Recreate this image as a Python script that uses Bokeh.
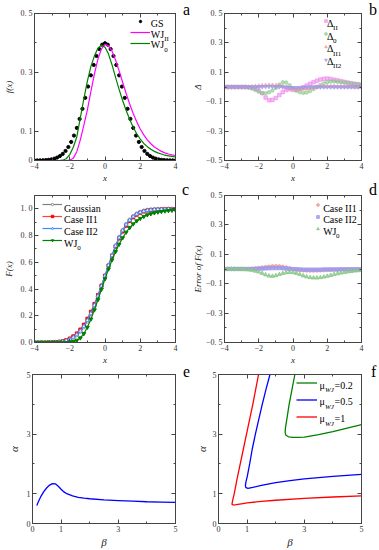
from bokeh.plotting import figure
from bokeh.models import Range1d, FixedTicker, LinearAxis, Label, Legend, LegendItem, Div
from bokeh.layouts import column, row
from bokeh.embed import file_html
from bokeh.resources import INLINE

FONT = "Liberation Serif"
AX = "#444444"

# ---------------- data ----------------
# panel a : densities
gs_x = [-4.00, -3.84, -3.68, -3.52, -3.36, -3.20, -3.04, -2.88, -2.72, -2.56, -2.40, -2.24, -2.08,
        -1.92, -1.76, -1.60, -1.44, -1.28, -1.12, -0.96, -0.80, -0.64, -0.48, -0.32, -0.16, 0.00,
        0.16, 0.32, 0.48, 0.64, 0.80, 0.96, 1.12, 1.28, 1.44, 1.60, 1.76, 1.92, 2.08, 2.24, 2.40,
        2.56, 2.72, 2.88, 3.04, 3.20, 3.36, 3.52, 3.68, 3.84, 4.00]
gs_f = [0.0001, 0.0003, 0.0005, 0.0008, 0.0014, 0.0024, 0.0039, 0.0063, 0.0099, 0.0151, 0.0224,
        0.0325, 0.0459, 0.0632, 0.0848, 0.1109, 0.1415, 0.1758, 0.2131, 0.2516, 0.2897, 0.3251,
        0.3555, 0.3790, 0.3939, 0.3989, 0.3939, 0.3790, 0.3555, 0.3251, 0.2897, 0.2516, 0.2131,
        0.1758, 0.1415, 0.1109, 0.0848, 0.0632, 0.0459, 0.0325, 0.0224, 0.0151, 0.0099, 0.0063,
        0.0039, 0.0024, 0.0014, 0.0008, 0.0005, 0.0003, 0.0001]

x_grid = [-4.0, -3.8, -3.6, -3.4, -3.2, -3.0, -2.8, -2.6, -2.4, -2.2, -2.0, -1.8, -1.6, -1.4,
          -1.2, -1.0, -0.8, -0.6, -0.4, -0.2, 0.0, 0.2, 0.4, 0.6, 0.8, 1.0, 1.2, 1.4, 1.6, 1.8,
          2.0, 2.2, 2.4, 2.6, 2.8, 3.0, 3.2, 3.4, 3.6, 3.8, 4.0]
wj2_f = [0, 0, 0, 0, 0, 0, 0, 0, 0, 0, 0.001, 0.008, 0.03, 0.07, 0.12, 0.172, 0.235, 0.295,
         0.345, 0.38, 0.395, 0.39, 0.372, 0.342, 0.305, 0.266, 0.228, 0.192, 0.16, 0.132, 0.107,
         0.087, 0.07, 0.057, 0.046, 0.038, 0.031, 0.026, 0.022, 0.019, 0.017]
wj0_f = [0, 0, 0, 0, 0, 0, 0, 0, 0.001, 0.006, 0.02, 0.045, 0.08, 0.145, 0.21, 0.27, 0.32,
         0.356, 0.382, 0.393, 0.385, 0.362, 0.325, 0.283, 0.242, 0.204, 0.17, 0.14, 0.113,
         0.091, 0.073, 0.058, 0.047, 0.038, 0.031, 0.026, 0.022, 0.018, 0.016, 0.014, 0.012]

# panel b : density differences
d_II = [0, 0, 0, 0, 0, 0, 0, -0.002, -0.006, -0.013, -0.025, -0.042, -0.072, -0.09, -0.088,
        -0.075, -0.055, -0.035, -0.02, -0.015, -0.02, -0.02, -0.012, -0.002, 0.01, 0.022, 0.033,
        0.043, 0.051, 0.056, 0.057, 0.055, 0.05, 0.045, 0.04, 0.035, 0.03, 0.026, 0.022, 0.019,
        0.016]
d_0 = [0, 0, 0, 0, 0, 0, 0, -0.003, -0.01, -0.02, -0.032, -0.042, -0.043, -0.036, -0.024,
       -0.006, 0.016, 0.032, 0.03, 0.012, -0.008, -0.025, -0.036, -0.04, -0.037, -0.028, -0.014,
       0.0, 0.014, 0.025, 0.033, 0.037, 0.038, 0.036, 0.033, 0.03, 0.027, 0.024, 0.021, 0.018,
       0.015]
d_II1 = [0, 0, 0, 0, 0, 0, 0, 0, 0.002, 0.004, 0.006, 0.008, 0.01, 0.011, 0.011, 0.01, 0.008,
         0.004, -0.002, -0.008, -0.012, -0.015, -0.015, -0.013, -0.01, -0.006, -0.003, 0.0,
         0.002, 0.003, 0.003, 0.003, 0.003, 0.002, 0.002, 0.001, 0.001, 0.001, 0, 0, 0]
d_II2 = [0, 0, 0, 0, 0, 0, 0, 0, 0, 0, 0.001, 0.002, 0.003, 0.003, 0.003, 0.002, 0.001, 0.0,
         -0.002, -0.004, -0.005, -0.005, -0.004, -0.003, -0.002, -0.001, 0, 0, 0, 0, 0, 0, 0, 0,
         0, 0, 0, 0, 0, 0, 0]

# panel c : distribution functions
F_gauss = [0.000, 0.000, 0.000, 0.000, 0.001, 0.001, 0.003, 0.005, 0.008, 0.014, 0.023, 0.036,
           0.055, 0.081, 0.115, 0.159, 0.212, 0.274, 0.345, 0.421, 0.500, 0.579, 0.655, 0.726,
           0.788, 0.841, 0.885, 0.919, 0.945, 0.964, 0.977, 0.986, 0.992, 0.995, 0.997, 0.999,
           0.999, 1.000, 1.000, 1.000, 1.000]
F_II1 = [0.000, 0.000, 0.000, 0.000, 0.001, 0.001, 0.003, 0.005, 0.010, 0.018, 0.030, 0.046,
         0.068, 0.097, 0.133, 0.178, 0.230, 0.289, 0.355, 0.426, 0.500, 0.575, 0.648, 0.717,
         0.778, 0.830, 0.874, 0.909, 0.936, 0.956, 0.970, 0.980, 0.987, 0.990, 0.993, 0.995,
         0.996, 0.997, 0.997, 0.998, 0.998]
F_II2 = [0.000, 0.000, 0.000, 0.000, 0.001, 0.001, 0.003, 0.005, 0.008, 0.015, 0.025, 0.039,
         0.059, 0.086, 0.121, 0.165, 0.218, 0.279, 0.348, 0.422, 0.499, 0.577, 0.652, 0.722,
         0.784, 0.837, 0.881, 0.915, 0.941, 0.961, 0.974, 0.983, 0.989, 0.992, 0.995, 0.997,
         0.997, 0.998, 0.998, 0.998, 0.998]
F_WJ0 = [0.000, 0.000, 0.000, 0.000, 0.000, 0.000, 0.000, 0.000, 0.000, 0.000, 0.003, 0.007,
         0.016, 0.034, 0.066, 0.114, 0.175, 0.244, 0.320, 0.398, 0.476, 0.550, 0.618, 0.680,
         0.735, 0.783, 0.825, 0.859, 0.887, 0.910, 0.928, 0.943, 0.955, 0.963, 0.970, 0.976,
         0.980, 0.984, 0.987, 0.989, 0.991]

# panel d : errors of F(x)
e_II1 = [0, 0, 0, 0, 0, 0, 0, 0, 0.002, 0.004, 0.007, 0.01, 0.013, 0.016, 0.018, 0.019, 0.018,
         0.015, 0.01, 0.005, 0.0, -0.004, -0.007, -0.009, -0.01, -0.011, -0.011, -0.01, -0.009,
         -0.008, -0.007, -0.006, -0.005, -0.005, -0.004, -0.004, -0.003, -0.003, -0.003, -0.002,
         -0.002]
e_II2 = [0, 0, 0, 0, 0, 0, 0, 0, 0, 0.001, 0.002, 0.003, 0.004, 0.005, 0.006, 0.006, 0.006,
         0.005, 0.003, 0.001, -0.001, -0.002, -0.003, -0.004, -0.004, -0.004, -0.004, -0.004,
         -0.004, -0.003, -0.003, -0.003, -0.003, -0.003, -0.002, -0.002, -0.002, -0.002, -0.002,
         -0.002, -0.002]
e_WJ0 = [0, 0, 0, 0, -0.001, -0.001, -0.003, -0.005, -0.008, -0.014, -0.02, -0.029, -0.039,
         -0.047, -0.049, -0.045, -0.037, -0.03, -0.025, -0.023, -0.024, -0.029, -0.037, -0.046,
         -0.053, -0.058, -0.06, -0.06, -0.058, -0.054, -0.049, -0.043, -0.037, -0.032, -0.027,
         -0.023, -0.019, -0.016, -0.013, -0.011, -0.009]

# panel e
beta_e = [0.15, 0.2, 0.3, 0.4, 0.5, 0.6, 0.7, 0.8, 0.9, 1.0, 1.1, 1.2, 1.4, 1.6, 1.8, 2.0, 2.5,
          3.0, 3.5, 4.0, 4.5, 5.0]
alpha_e = [0.60, 0.72, 0.92, 1.08, 1.2, 1.29, 1.34, 1.33, 1.25, 1.15, 1.06, 1.0, 0.93, 0.88,
           0.85, 0.83, 0.79, 0.77, 0.75, 0.73, 0.72, 0.71]

# panel f
beta_g = [2.67, 2.57, 2.47, 2.39, 2.34, 2.33, 2.36, 2.45, 2.6, 2.8, 3.0, 3.5, 4.0, 4.5, 5.0]
alpha_g = [5.0, 4.5, 4.0, 3.5, 3.2, 3.05, 2.96, 2.91, 2.89, 2.89, 2.9, 2.98, 3.08, 3.2, 3.32]
beta_b = [1.80, 1.66, 1.53, 1.41, 1.29, 1.18, 1.09, 1.01, 0.96, 0.94, 0.96, 1.03, 1.2, 1.5, 2.0,
          2.5, 3.0, 4.0, 5.0]
alpha_b = [5.0, 4.5, 4.0, 3.5, 3.0, 2.5, 2.0, 1.6, 1.4, 1.27, 1.2, 1.18, 1.21, 1.28, 1.37, 1.44,
           1.5, 1.58, 1.65]
beta_r = [1.40, 1.30, 1.20, 1.09, 0.98, 0.87, 0.76, 0.65, 0.55, 0.49, 0.47, 0.52, 0.62, 0.8, 1.0,
          1.5, 2.0, 3.0, 4.0, 5.0]
alpha_r = [5.0, 4.5, 4.0, 3.5, 3.0, 2.5, 2.0, 1.5, 1.0, 0.75, 0.64, 0.62, 0.63, 0.66, 0.69,
           0.74, 0.78, 0.84, 0.89, 0.93]

# ticks
xt = [-4, -2, 0, 2, 4]
xt_minor = [-3, -1, 1, 3]
xt_lab = {-4: "\u22124", -2: "\u22122", 0: "0", 2: "2", 4: "4"}
ya_t = [0, 0.1, 0.3, 0.5]
ya_minor = [0.2, 0.4]
ya_lab = {0: "0", 0.1: "0. 1", 0.3: "0. 3", 0.5: "0. 5"}
yb_t = [-0.5, -0.3, -0.1, 0.1, 0.3, 0.5]
yb_minor = [-0.4, -0.2, 0.0, 0.2, 0.4]
yb_lab = {-0.5: "\u22120. 5", -0.3: "\u22120. 3", -0.1: "\u22120. 1", 0.1: "0. 1", 0.3: "0. 3",
          0.5: "0. 5"}
yc_t = [0.0, 0.2, 0.4, 0.6, 0.8, 1.0]
yc_minor = [0.1, 0.3, 0.5, 0.7, 0.9]
yc_lab = {0.0: "0. 0", 0.2: "0. 2", 0.4: "0. 4", 0.6: "0. 6", 0.8: "0. 8", 1.0: "1. 0"}
ef_t = [0, 1, 3, 5]
ef_minor = [2, 4]
ef_lab = {0: "0", 1: "1", 3: "3", 5: "5"}

# legend texts
leg_a = ["GS", "WJ", "WJ"]
sub_a = ["", "II", "0"]
leg_b = ["\u0394", "\u0394", "\u0394", "\u0394"]
sub_b = ["II", "0", "II1", "II2"]
leg_c = ["Gaussian", "Case II1", "Case II2", "WJ"]
leg_d = ["Case II1", "Case II2", "WJ"]
mu_vals = ["=0.2", "=0.5", "=1"]

# ---------------- helpers ----------------
GEOM = {}


def make_fig(W, H, bl, br, bt, bb, xr, yr):
    p = figure(width=W, height=H, x_range=Range1d(*xr), y_range=Range1d(*yr),
               output_backend="svg", toolbar_location=None,
               min_border_left=bl, min_border_right=br, min_border_top=bt, min_border_bottom=bb)
    p.xgrid.visible = False
    p.ygrid.visible = False
    p.outline_line_color = AX
    p.outline_line_width = 1
    p.background_fill_color = "white"
    p.border_fill_color = "white"
    GEOM[p.id] = (W - bl - br, H - bt - bb, xr, yr)
    return p


def style_axis(ax, ticks, minor, labels=None, label=None, label_size="9px", lab_standoff=2):
    ax.ticker = FixedTicker(ticks=ticks, minor_ticks=minor)
    ax.axis_line_color = AX
    ax.major_tick_line_color = AX
    ax.minor_tick_line_color = AX
    ax.major_tick_in = 4
    ax.major_tick_out = 0
    ax.minor_tick_in = 2
    ax.minor_tick_out = 0
    if labels is None:
        ax.major_label_text_font_size = "0px"
        ax.major_label_text_color = None
        ax.major_label_standoff = 0
        ax.axis_label = None
    else:
        ax.major_label_overrides = labels
        ax.major_label_text_font = FONT
        ax.major_label_text_font_size = "8px"
        ax.major_label_text_color = "#333333"
        ax.major_label_standoff = 2
        ax.axis_label = label
        ax.axis_label_text_font = FONT
        ax.axis_label_text_font_style = "italic"
        ax.axis_label_text_font_size = label_size
        ax.axis_label_text_color = "#222222"
        ax.axis_label_standoff = lab_standoff


def setup_axes(p, xt_, xm, xl, yt_, ym, yl, xlabel, ylabel, lsize="9px", ystand=4):
    style_axis(p.xaxis[0], xt_, xm, xl, xlabel, lsize, 1)
    style_axis(p.yaxis[0], yt_, ym, yl, ylabel, lsize, ystand)
    top = LinearAxis()
    style_axis(top, xt_, xm)
    p.add_layout(top, "above")
    right = LinearAxis()
    style_axis(right, yt_, ym)
    p.add_layout(right, "right")


def txt(p, fx, fy, text, size, style="normal", baseline="middle"):
    fw, fh, xr, yr = GEOM[p.id]
    x = xr[0] + fx / fw * (xr[1] - xr[0])
    y = yr[1] - fy / fh * (yr[1] - yr[0])
    p.add_layout(Label(x=x, y=y, text=text, text_font=FONT, text_font_size=size,
                       text_font_style=style, text_baseline=baseline, text_align="left",
                       text_color="black"))


def add_legend(p, renderers, loc, gw, gh, spacing):
    items = [LegendItem(label="", renderers=r) for r in renderers]
    lg = Legend(items=items, location=loc, glyph_width=gw, glyph_height=gh, label_height=gh,
                label_width=1, label_standoff=0, spacing=spacing, padding=0, margin=0,
                label_text_font_size="1px", border_line_alpha=0, background_fill_alpha=0)
    p.add_layout(lg)


def letter(ch, width, height, pad_top, pad_left=0):
    return Div(text=ch, width=width, height=height, margin=0,
               styles={"font-family": FONT, "font-size": "16px", "line-height": "10px",
                       "padding-top": f"{pad_top}px", "padding-left": f"{pad_left}px",
                       "color": "black", "overflow": "visible"})


# ---------------- panel a ----------------
pa = make_fig(182, 185, 32, 7, 13, 22, (-4, 4), (0, 0.5))
setup_axes(pa, xt, xt_minor, xt_lab, ya_t, ya_minor, ya_lab, "x", "f(x)")
r_gs = pa.scatter(gs_x, gs_f, marker="circle", size=3.2, color="black")
r_w2 = pa.line(x_grid, wj2_f, line_color="#ff00ff", line_width=1.2)
r_w0 = pa.line(x_grid, wj0_f, line_color="#008000", line_width=1.2)
add_legend(pa, [[r_gs], [r_w2], [r_w0]], (96, 114.5), 20, 6, 5)
for i in range(3):
    cy = 10 + 11 * i
    txt(pa, 118, cy, leg_a[i], "10px")
    if sub_a[i]:
        txt(pa, 131.5, cy + 5, sub_a[i], "7px", baseline="alphabetic")

# ---------------- panel b ----------------
pb = make_fig(178, 185, 29, 6, 13, 22, (-4, 4), (-0.5, 0.5))
setup_axes(pb, xt, xt_minor, xt_lab, yb_t, yb_minor, yb_lab, "x", "\u0394", ystand=0)
r_b1 = pb.scatter(x_grid, d_II, marker="square", size=3.5, color="#ee88ee", alpha=0.6)
r_b2 = pb.scatter(x_grid, d_0, marker="circle", size=3.5, color="#88c888", alpha=0.6)
r_b3 = pb.scatter(x_grid, d_II1, marker="triangle", size=4, color="#f49a9a", alpha=0.7)
r_b4 = pb.scatter(x_grid, d_II2, marker="inverted_triangle", size=4, color="#9a9af0", alpha=0.7)
add_legend(pb, [[r_b1], [r_b2], [r_b3], [r_b4]], (97.5, 97.5), 7, 7, 6)
for i in range(4):
    cy = 10 + 13 * i
    txt(pb, 107, cy, leg_b[i], "10px")
    txt(pb, 113.3, cy + 5, sub_b[i], "7px", baseline="alphabetic")

# ---------------- panel c ----------------
pc = make_fig(182, 182, 32, 7, 10, 21, (-4, 4), (0, 1.1))
setup_axes(pc, xt, xt_minor, xt_lab, yc_t, yc_minor, yc_lab, "x", "F(x)")
lc1 = pc.line(x_grid, F_gauss, line_color="#808080", line_width=1.2)
mc1 = pc.scatter(x_grid, F_gauss, marker="circle", size=3.5, line_color="#808080",
                 fill_color="white", line_width=0.8)
lc2 = pc.line(x_grid, F_II1, line_color="#ff4040", line_width=1.2)
mc2 = pc.scatter(x_grid, F_II1, marker="square", size=3, color="#ff0000")
lc3 = pc.line(x_grid, F_II2, line_color="#3d8bff", line_width=1.2)
mc3 = pc.scatter(x_grid, F_II2, marker="triangle", size=3.8, line_color="#3d8bff",
                 fill_color="white", line_width=0.8)
lc4 = pc.line(x_grid, F_WJ0, line_color="#008000", line_width=1.2)
mc4 = pc.scatter(x_grid, F_WJ0, marker="inverted_triangle", size=3.8, color="#008000")
add_legend(pc, [[lc1, mc1], [lc2, mc2], [lc3, mc3], [lc4, mc4]], (8, 99), 20, 6, 6)
for i in range(4):
    cy = 13 + 12 * i
    txt(pc, 30, cy, leg_c[i], "10px")
txt(pc, 43.3, 13 + 36 + 5, "0", "7px", baseline="alphabetic")

# ---------------- panel d ----------------
pd_ = make_fig(178, 182, 29, 6, 10, 21, (-4, 4), (-0.5, 0.5))
setup_axes(pd_, xt, xt_minor, xt_lab, yb_t, yb_minor, yb_lab, "x", "Error of F(x)", ystand=0)
r_d1 = pd_.scatter(x_grid, e_II1, marker="circle", size=3.5, color="#f49a9a", alpha=0.8)
r_d2 = pd_.scatter(x_grid, e_II2, marker="square", size=3.3, color="#9a9af0", alpha=0.8)
r_d3 = pd_.scatter(x_grid, e_WJ0, marker="triangle", size=4, color="#88c888", alpha=0.8)
add_legend(pd_, [[r_d1], [r_d2], [r_d3]], (89.5, 110.5), 7, 7, 5)
for i in range(3):
    cy = 13 + 12 * i
    txt(pd_, 103, cy, leg_d[i], "10px")
txt(pd_, 116.3, 13 + 24 + 5, "0", "7px", baseline="alphabetic")

# ---------------- panel e ----------------
pe = make_fig(182, 183, 32, 7, 7, 24, (0, 5), (0, 5))
setup_axes(pe, ef_t, ef_minor, ef_lab, ef_t, ef_minor, ef_lab, "\u03b2", "\u03b1", "11px")
pe.line(beta_e, alpha_e, line_color="#0000ff", line_width=1.3)

# ---------------- panel f ----------------
pf = make_fig(178, 183, 29, 6, 7, 24, (0, 5), (0, 5))
setup_axes(pf, ef_t, ef_minor, ef_lab, ef_t, ef_minor, ef_lab, "\u03b2", "\u03b1", "11px", ystand=2)
rg = pf.line(beta_g, alpha_g, line_color="#008000", line_width=1.3)
rb = pf.line(beta_b, alpha_b, line_color="#0000ff", line_width=1.3)
rr = pf.line(beta_r, alpha_r, line_color="#ff0000", line_width=1.3)
add_legend(pf, [[rg], [rb], [rr]], (78, 98.5), 21, 17, 0)
for i in range(3):
    cy = 11 + 17 * i
    txt(pf, 101, cy, "\u03bc", "10px")
    txt(pf, 106.5, cy + 5, "WJ", "7px", style="italic", baseline="alphabetic")
    txt(pf, 116, cy, mu_vals[i], "10px")

row1 = row(pa, letter("a", 7, 185, 5, 1), pb, letter("b", 12, 185, 5, 2))
row2 = row(pc, letter("c", 7, 182, 0, 0), pd_, letter("d", 12, 182, 0, 2))
row3 = row(pe, letter("e", 7, 183, 0, 1), pf, letter("f", 12, 183, 0, 4))
layout = column(row1, row2, row3)
open("out.html", "w").write(file_html(layout, INLINE))
